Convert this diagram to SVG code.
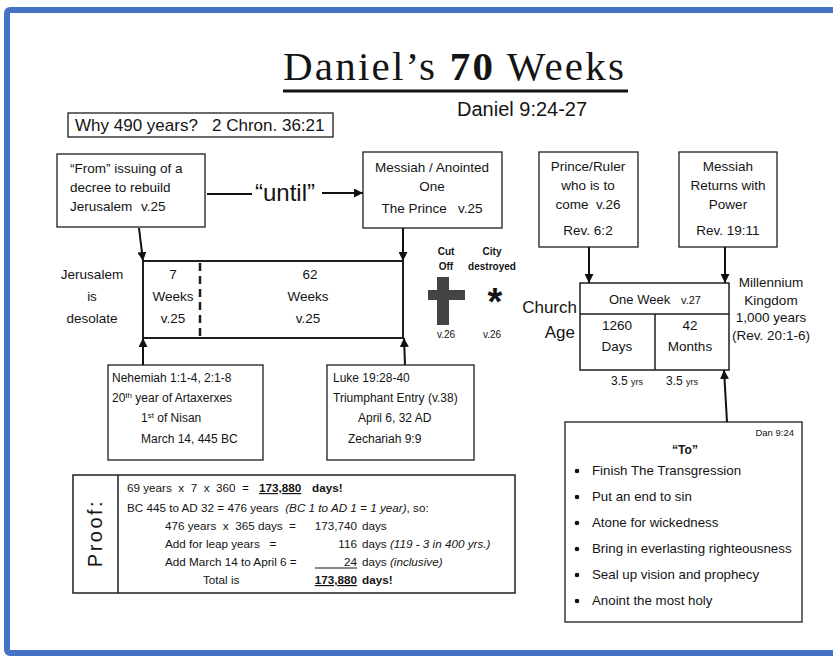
<svg xmlns="http://www.w3.org/2000/svg" width="833" height="656" viewBox="0 0 833 656">
<style>
text{font-family:"Liberation Sans",Arial,sans-serif;fill:#141414;}
.s{font-family:"Liberation Serif","Times New Roman",serif;}
.m{text-anchor:middle;}
.e{text-anchor:end;}
.b{font-weight:bold;}
.i{font-style:italic;}
.box{fill:#fff;stroke:#1e1e1e;stroke-width:1.3;}
.f13{font-size:13.5px;}
.f12{font-size:12px;}
.f11{font-size:11.7px;}
.f10{font-size:10px;}
.conn line,.conn path{stroke:#111;stroke-width:2;fill:none;}
</style>
<defs>
<marker id="ah" viewBox="0 0 10 10" refX="10" refY="5" markerWidth="9" markerHeight="9" markerUnits="userSpaceOnUse" orient="auto">
<path d="M0,0 L10,5 L0,10 z" fill="#111"/>
</marker>
</defs>
<rect x="0" y="0" width="833" height="656" fill="#fff"/>
<rect x="7" y="10" width="840" height="643" rx="3" fill="none" stroke="#4472c4" stroke-width="6"/>

<g id="title">
<text class="s" x="283" y="80" font-size="41" letter-spacing="2.2">Daniel’s <tspan font-weight="bold">70</tspan> Weeks</text>
<line x1="283" y1="91" x2="628" y2="91" stroke="#111" stroke-width="3"/>
<text x="457" y="116" font-size="20">Daniel 9:24-27</text>
</g>

<g id="why">
<rect class="box" x="68" y="113" width="265" height="24"/>
<text x="75" y="131" font-size="17" xml:space="preserve">Why 490 years?   2 Chron. 36:21</text>
</g>

<g id="from">
<rect class="box" x="57" y="154" width="148" height="73"/>
<text class="f13" x="70" y="173">“From” issuing of a</text>
<text class="f13" x="70" y="192">decree to rebuild</text>
<text class="f13" x="70" y="211">Jerusalem</text>
<text class="f13" x="141" y="211">v.25</text>
</g>

<g id="messiah">
<rect class="box" x="363" y="152" width="139" height="76"/>
<text class="f13 m" x="432" y="172">Messiah / Anointed</text>
<text class="f13 m" x="432" y="191">One</text>
<text class="f13 m" x="432" y="213" xml:space="preserve">The Prince   v.25</text>
</g>

<g id="prince">
<rect class="box" x="539" y="152" width="99" height="95"/>
<text class="f13 m" x="588" y="171">Prince/Ruler</text>
<text class="f13 m" x="588" y="190">who is to</text>
<text class="f13 m" x="588" y="209" xml:space="preserve">come  v.26</text>
<text class="f13 m" x="588" y="235">Rev. 6:2</text>
</g>

<g id="returns">
<rect class="box" x="679" y="152" width="98" height="95"/>
<text class="f13 m" x="728" y="171">Messiah</text>
<text class="f13 m" x="728" y="190">Returns with</text>
<text class="f13 m" x="728" y="209">Power</text>
<text class="f13 m" x="728" y="235">Rev. 19:11</text>
</g>

<g id="desolate">
<text class="f13 m" x="92" y="279">Jerusalem</text>
<text class="f13 m" x="92" y="301">is</text>
<text class="f13 m" x="92" y="323">desolate</text>
</g>

<g id="weeks">
<rect x="143" y="261" width="260" height="77" fill="#fff" stroke="#1e1e1e" stroke-width="2"/>
<line x1="200" y1="263" x2="200" y2="337" stroke="#1e1e1e" stroke-width="2.5" stroke-dasharray="8,5"/>
<text class="f13 m" x="173" y="279">7</text>
<text class="f13 m" x="173" y="301">Weeks</text>
<text class="f13 m" x="173" y="323">v.25</text>
<text class="f13 m" x="310" y="279">62</text>
<text class="f13 m" x="308" y="301">Weeks</text>
<text class="f13 m" x="308" y="323">v.25</text>
</g>

<g id="cutoff">
<text class="f10 b m" x="446" y="255">Cut</text>
<text class="f10 b m" x="446" y="270">Off</text>
<rect x="437" y="277" width="12" height="48" fill="#444"/>
<rect x="428" y="290" width="37" height="10" fill="#444"/>
<text class="f10 m" x="446" y="338">v.26</text>
</g>

<g id="city">
<text class="f10 b m" x="492" y="255">City</text>
<text class="f10 b m" x="492" y="270">destroyed</text>
<text class="b m" x="495" y="315" font-size="38">*</text>
<text class="f10 m" x="492" y="338">v.26</text>
</g>

<g id="church">
<text class="e" x="577" y="313" font-size="17">Church</text>
<text class="e" x="575" y="338" font-size="17">Age</text>
</g>

<g id="oneweek">
<rect x="580" y="283" width="149" height="87" fill="#fff" stroke="#1e1e1e" stroke-width="1.5"/>
<line x1="580" y1="314" x2="729" y2="314" stroke="#1e1e1e" stroke-width="1.5"/>
<line x1="655" y1="314" x2="655" y2="370" stroke="#1e1e1e" stroke-width="1.5"/>
<text class="m" x="655" y="304" font-size="13" xml:space="preserve">One Week   <tspan font-size="11">v.27</tspan></text>
<text class="f13 m" x="617" y="330">1260</text>
<text class="f13 m" x="617" y="351">Days</text>
<text class="f13 m" x="690" y="330">42</text>
<text class="f13 m" x="690" y="351">Months</text>
<text x="611" y="385" font-size="12">3.5 <tspan font-size="9">yrs</tspan></text>
<text x="666" y="385" font-size="12">3.5 <tspan font-size="9">yrs</tspan></text>
</g>

<g id="millennium">
<text class="f13 m" x="771" y="287">Millennium</text>
<text class="f13 m" x="771" y="305">Kingdom</text>
<text class="f13 m" x="771" y="322">1,000 years</text>
<text class="f13 m" x="771" y="340">(Rev. 20:1-6)</text>
</g>

<g id="nehemiah">
<rect class="box" x="108" y="365" width="155" height="95"/>
<text class="f12" x="112" y="382">Nehemiah 1:1-4, 2:1-8</text>
<text class="f12" x="112" y="402">20<tspan font-size="8" dy="-4">th</tspan><tspan dy="4"> year of Artaxerxes</tspan></text>
<text class="f12" x="141" y="422">1<tspan font-size="8" dy="-4">st</tspan><tspan dy="4"> of Nisan</tspan></text>
<text class="f12" x="141" y="443">March 14, 445 BC</text>
</g>

<g id="luke">
<rect class="box" x="327" y="365" width="147" height="95"/>
<text class="f12" x="333" y="382">Luke 19:28-40</text>
<text class="f12" x="333" y="402">Triumphant Entry (v.38)</text>
<text class="f12" x="358" y="422">April 6, 32 AD</text>
<text class="f12" x="348" y="443">Zechariah 9:9</text>
</g>

<g id="proof">
<rect x="73" y="475" width="442" height="118" fill="#fff" stroke="#1e1e1e" stroke-width="1.5"/>
<line x1="118" y1="475" x2="118" y2="593" stroke="#1e1e1e" stroke-width="1.5"/>
<text x="102" y="533" font-size="20" letter-spacing="2.5" class="m" transform="rotate(-90 102 533)">Proof:</text>
<text class="f11" x="127" y="492" xml:space="preserve">69 years  x  7  x  360  =</text>
<text class="f11 b" x="259" y="492" text-decoration="underline">173,880</text>
<text class="f11 b" x="312" y="492">days!</text>
<text class="f11" x="127" y="512" xml:space="preserve">BC 445 to AD 32 = 476 years  <tspan class="i">(BC 1 to AD 1 = 1 year)</tspan>, so:</text>
<text class="f11" x="165" y="530" xml:space="preserve">476 years  x  365 days  =</text>
<text class="f11 e" x="357" y="530">173,740</text>
<text class="f11" x="362" y="530">days</text>
<text class="f11" x="165" y="548" xml:space="preserve">Add for leap years   =</text>
<text class="f11 e" x="357" y="548">116</text>
<text class="f11" x="362" y="548">days <tspan class="i">(119 - 3 in 400 yrs.)</tspan></text>
<text class="f11" x="165" y="566">Add March 14 to April 6 =</text>
<line x1="315" y1="568" x2="357" y2="568" stroke="#141414" stroke-width="1"/>
<text class="f11 e" x="357" y="566">24</text>
<text class="f11" x="362" y="566">days <tspan class="i">(inclusive)</tspan></text>
<text class="f11" x="203" y="584">Total is</text>
<text class="f11 b e" x="357" y="584" text-decoration="underline">173,880</text>
<text class="f11 b" x="362" y="584">days!</text>
</g>

<g id="to">
<rect class="box" x="565" y="422" width="237" height="200"/>
<text class="e" x="794" y="436" font-size="9.5">Dan 9:24</text>
<text class="b m" x="685" y="454" font-size="12">“To”</text>
<g fill="#141414">
<circle cx="577" cy="471" r="2.3"/>
<circle cx="577" cy="497" r="2.3"/>
<circle cx="577" cy="523" r="2.3"/>
<circle cx="577" cy="549" r="2.3"/>
<circle cx="577" cy="575" r="2.3"/>
<circle cx="577" cy="601" r="2.3"/>
</g>
<text x="592" y="475" font-size="13.3">Finish The Transgression</text>
<text x="592" y="501" font-size="13.3">Put an end to sin</text>
<text x="592" y="527" font-size="13.3">Atone for wickedness</text>
<text x="592" y="553" font-size="13.3">Bring in everlasting righteousness</text>
<text x="592" y="579" font-size="13.3">Seal up vision and prophecy</text>
<text x="592" y="605" font-size="13.3">Anoint the most holy</text>
</g>

<g id="until">
<text x="255" y="201" font-size="24">“until”</text>
</g>

<g class="conn" id="connectors">
<line x1="207" y1="194" x2="252" y2="194"/>
<line x1="322" y1="193" x2="363" y2="193" marker-end="url(#ah)"/>
<line x1="139" y1="228" x2="143" y2="261" marker-end="url(#ah)"/>
<line x1="403" y1="228" x2="403" y2="261" marker-end="url(#ah)"/>
<line x1="143" y1="365" x2="143" y2="338" marker-end="url(#ah)"/>
<line x1="405" y1="365" x2="404" y2="338" marker-end="url(#ah)"/>
<line x1="589" y1="247" x2="589" y2="283" marker-end="url(#ah)"/>
<line x1="725" y1="247" x2="725" y2="283" marker-end="url(#ah)"/>
<line x1="727" y1="422" x2="724" y2="370" marker-end="url(#ah)"/>
</g>
</svg>
